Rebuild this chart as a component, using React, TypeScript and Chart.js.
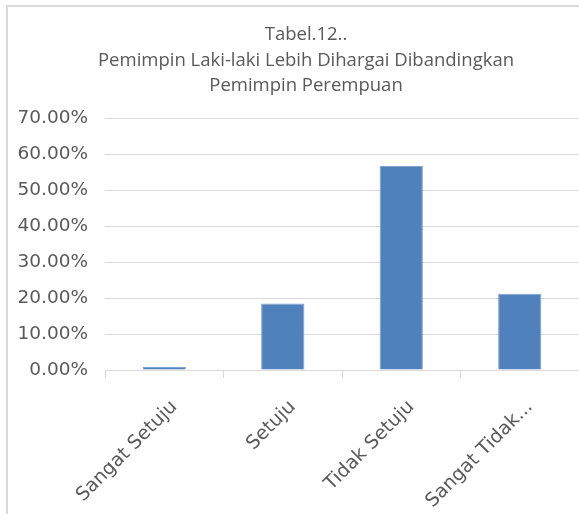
import React, { useEffect, useRef } from "react";
import { Chart, registerables } from "chart.js";

Chart.register(...registerables);

const titleLines = [
  "Tabel.12..",
  "Pemimpin Laki-laki Lebih Dihargai Dibandingkan",
  "Pemimpin Perempuan",
];
const categories = ["Sangat Setuju", "Setuju", "Tidak Setuju", "Sangat Tidak..."];
const values = [0.8, 18.5, 56.7, 21.2];
const yMax = 70;
const yStep = 10;

const TEXT = "#595959";
const GRID = "#d9d9d9";
const BAR = "#4f81bd";

const framePlugin = {
  id: "frame",
  beforeDraw(chart: any) {
    const ctx = chart.ctx;
    ctx.save();
    ctx.strokeStyle = "#d9d9d9";
    ctx.lineWidth = 2;
    ctx.beginPath();
    ctx.moveTo(7, 700);
    ctx.lineTo(7, 6);
    ctx.lineTo(700, 6);
    ctx.stroke();
    ctx.restore();
  },
};

const titlePlugin = {
  id: "chartTitleText",
  afterDraw(chart: any) {
    const ctx = chart.ctx;
    ctx.save();
    ctx.fillStyle = TEXT;
    ctx.font = "18.5px 'Open Sans'";
    ctx.textAlign = "center";
    ctx.textBaseline = "alphabetic";
    const baselines = [40, 66, 91];
    titleLines.forEach((line, i) => ctx.fillText(line, 306, baselines[i]));
    ctx.restore();
  },
};

export default function App() {
  const ref = useRef<HTMLCanvasElement>(null);
  useEffect(() => {
    document.body.style.margin = "0";
    document.body.style.overflow = "hidden";
    const chart = new Chart(ref.current!, {
      type: "bar",
      data: {
        labels: categories,
        datasets: [
          {
            data: values,
            backgroundColor: BAR,
            borderColor: "#7fa3d0",
            borderWidth: 1,
            categoryPercentage: 1,
            barPercentage: 0.365,
          },
        ],
      },
      options: {
        animation: false,
        responsive: false,
        layout: { padding: { left: 0, right: 0, top: 118, bottom: 0 } },
        plugins: {
          legend: { display: false },
          tooltip: { enabled: false },
          title: { display: false },
        },
        scales: {
          x: {
            grid: {
              display: true,
              drawOnChartArea: false,
              drawTicks: true,
              tickLength: 8,
              color: GRID,
              offset: true,
            },
            border: { display: true, color: GRID, width: 1 },
            ticks: {
              color: TEXT,
              font: { family: "'DejaVu Sans'", size: 19 },
              minRotation: 45,
              maxRotation: 45,
              autoSkip: false,
              padding: 18,
              labelOffset: 10,
            },
            afterFit(scale: any) {
              scale.height = 144;
            },
          },
          y: {
            min: 0,
            max: yMax,
            grid: { color: GRID, drawTicks: false, lineWidth: 1 },
            border: { display: false },
            ticks: {
              stepSize: yStep,
              color: TEXT,
              font: { family: "'DejaVu Sans'", size: 18.5 },
              padding: 17,
              callback: (v: any) => Number(v).toFixed(2) + "%",
            },
            afterFit(scale: any) {
              scale.width = 105;
            },
          },
        },
      },
      plugins: [framePlugin, titlePlugin],
    });
    return () => chart.destroy();
  }, []);
  return (
    <div style={{ width: 579, height: 514, position: "relative" }}>
      <canvas ref={ref} width={579} height={514} style={{ display: "block" }} />
    </div>
  );
}
